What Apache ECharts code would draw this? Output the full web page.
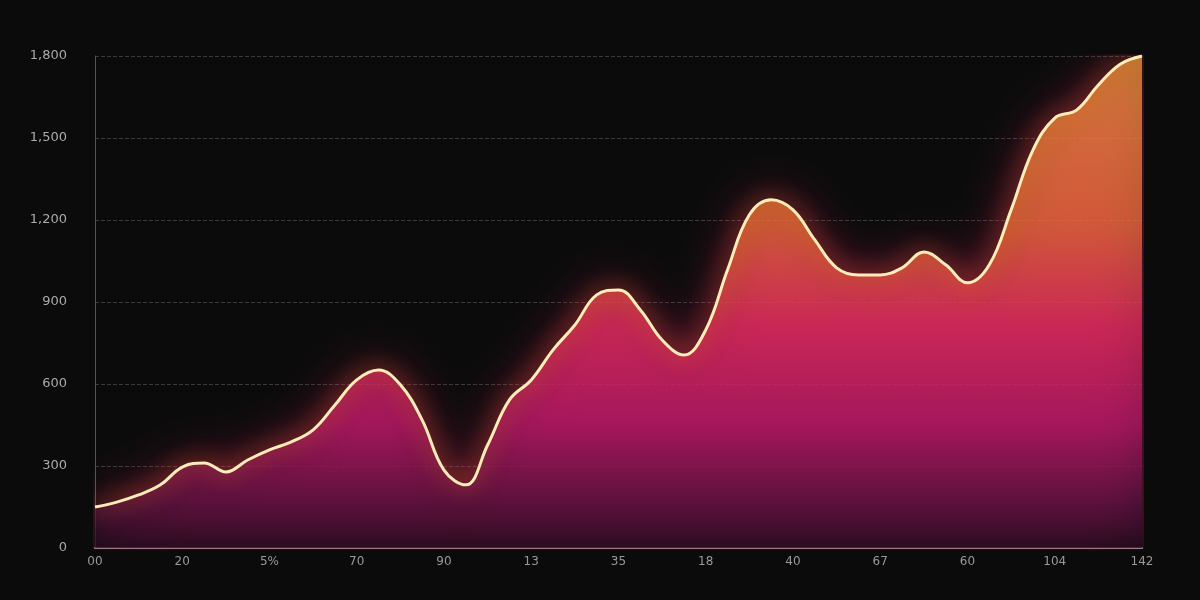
<!DOCTYPE html>
<html>
<head>
<meta charset="utf-8">
<script src="https://cdn.jsdelivr.net/npm/echarts@6/dist/echarts.min.js"></script>
<style>html,body{margin:0;background:#0b0b0b}#chart{width:1200px;height:600px}</style>
</head>
<body>
<div id="chart"></div>
<script>
// 横轴标签（每四个点一个）
const tickLabels = ['00','20','5%','70','90','13','35','18','40','67','60','104','142'];
const values = [150,168,194,231,296,311,278,322,359,388,432,523,615,651,597,468,285,231,377,542,615,725,816,926,944,871,761,706,798,1018,1219,1274,1237,1127,1025,999,999,1025,1083,1036,970,1036,1237,1456,1573,1602,1694,1770,1800];
const yTicks = [0,300,600,900,1200,1500,1800];
const categories = values.map((v, i) => i % 4 === 0 ? tickLabels[i / 4] : '');

const chart = echarts.init(document.getElementById('chart'));
chart.setOption({
    backgroundColor: '#0b0b0b',
    grid: { left: 95, right: 58, top: 56, bottom: 52 },
    xAxis: {
        type: 'category',
        boundaryGap: false,
        data: categories,
        axisLine: { lineStyle: { color: '#8a8a8a', width: 2 } },
        axisTick: { show: false },
        axisLabel: { color: '#999', fontSize: 12, interval: 3, fontFamily: 'DejaVu Sans' }
    },
    yAxis: {
        type: 'value',
        min: yTicks[0],
        max: yTicks[yTicks.length - 1],
        interval: 300,
        axisLine: { show: true, lineStyle: { color: '#555' } },
        axisLabel: { color: '#aaa', fontSize: 13, margin: 28, fontFamily: 'DejaVu Sans' },
        splitLine: { lineStyle: { color: '#3a3a3a', type: 'dashed' } }
    },
    series: [{
        type: 'line',
        data: values,
        smooth: 0.4,
        symbol: 'none',
        clip: false,
        lineStyle: {
            width: 3,
            color: '#ffecb8',
            shadowBlur: 22,
            shadowColor: '#ff7a18'
        },
        areaStyle: {
            color: new echarts.graphic.LinearGradient(0, 0, 0, 1, [
                { offset: 0, color: '#ffa040' },
                { offset: 0.35, color: '#f7733a' },
                { offset: 0.55, color: '#ec2f62' },
                { offset: 0.75, color: '#b8186a' },
                { offset: 0.92, color: '#4a0f3a' },
                { offset: 1, color: '#1e0a1c' }
            ]),
            shadowBlur: 50,
            shadowColor: 'rgba(220,30,100,0.75)'
        }
    }]
});
</script>
</body>
</html>
